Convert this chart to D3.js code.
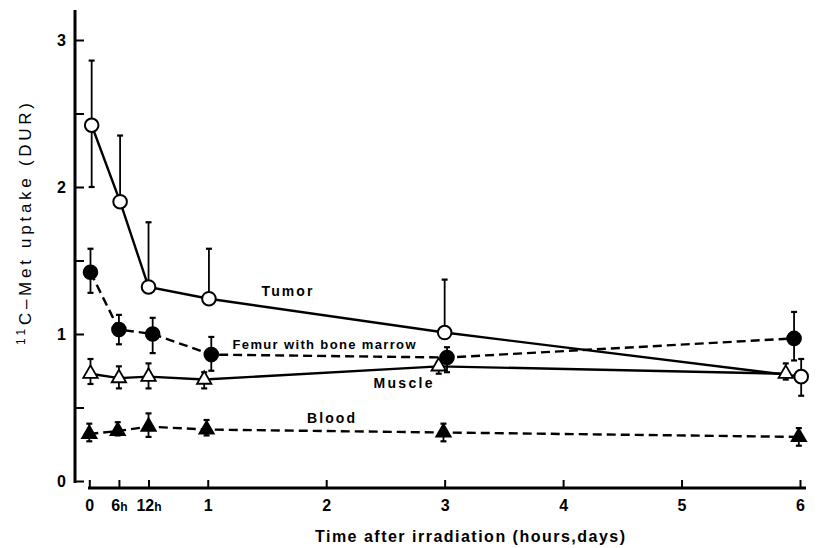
<!DOCTYPE html>
<html>
<head>
<meta charset="utf-8">
<script src="https://cdn.jsdelivr.net/npm/d3@7"></script>
<style>
  html, body { margin: 0; padding: 0; background: #fff; }
  svg { display: block; }
  text { font-family: "Liberation Sans", Arial, sans-serif; font-weight: bold; fill: #000; }
</style>
</head>
<body>
<svg id="chart" width="833" height="548"></svg>
<script>
// ---- Data ----
// x positions in days after irradiation (6h = 0.25, 12h = 0.5)
const tumorX   = [0.02, 0.26, 0.50, 1.01, 3.00, 6.01];
const tumorY   = [2.42, 1.90, 1.32, 1.24, 1.01, 0.71];
const tumorHi  = [2.86, 2.35, 1.76, 1.58, 1.37, 0.83];
const tumorLo  = [2.00, null, null, null, null, 0.58];

const femurX   = [0.01, 0.25, 0.535, 1.03, 3.02, 5.95];
const femurY   = [1.42, 1.03, 1.00, 0.86, 0.84, 0.97];
const femurHi  = [1.58, 1.13, 1.11, 0.98, 0.91, 1.15];
const femurLo  = [1.28, 0.93, 0.87, 0.75, 0.74, 0.82];

const muscleX  = [0.01, 0.25, 0.50, 0.97, 2.95, 5.88];
const muscleY  = [0.73, 0.70, 0.71, 0.69, 0.78, 0.73];
const muscleHi = [0.83, 0.78, 0.80, 0.74, 0.81, 0.80];
const muscleLo = [0.66, 0.63, 0.63, 0.63, 0.73, 0.69];

const bloodX   = [0.00, 0.24, 0.50, 0.99, 2.99, 5.99];
const bloodY   = [0.32, 0.34, 0.37, 0.35, 0.33, 0.30];
const bloodHi  = [0.39, 0.40, 0.46, 0.415, 0.39, 0.36];
const bloodLo  = [0.27, 0.31, 0.30, 0.31, 0.27, 0.24];

const xTickValues = [0, 0.25, 0.5, 1, 2, 3, 4, 5, 6];
const xTickLabels = ["0", "6h", "12h", "1", "2", "3", "4", "5", "6"];
const yTickValues = [0, 0.5, 1, 1.5, 2, 2.5, 3];
const yTickLabels = [0, 1, 2, 3];

const seriesNames = ["Tumor", "Femur with bone marrow", "Muscle", "Blood"];

// ---- Layout ----
const svg = d3.select("#chart");
const x = d3.scaleLinear().domain([0, 6]).range([89.3, 800]);
const y = d3.scaleLinear().domain([0, 3]).range([481, 40]);

const yAxisX = 75, xAxisY = 488;

// Y axis line
svg.append("line").attr("x1", yAxisX).attr("x2", yAxisX)
  .attr("y1", 10).attr("y2", y(0) + 2)
  .attr("stroke", "#000").attr("stroke-width", 3);
// Y ticks (inward)
const yAx = svg.append("g").attr("transform", `translate(${yAxisX},0)`)
  .call(d3.axisRight(y).tickValues(yTickValues).tickSize(9).tickFormat(""));
yAx.select(".domain").remove();
yAx.selectAll(".tick line").attr("stroke", "#000").attr("stroke-width", 2);
// Y labels
const yLab = svg.append("g").attr("transform", `translate(${yAxisX},0)`)
  .call(d3.axisLeft(y).tickValues(yTickLabels).tickSize(0).tickPadding(9).tickFormat(d3.format("d")));
yLab.select(".domain").remove();
yLab.selectAll("text").style("font-size", "16px").style("font-family", "Liberation Sans, Arial, sans-serif").style("font-weight", "bold");

// X axis line
svg.append("line").attr("x1", 88).attr("x2", 806)
  .attr("y1", xAxisY).attr("y2", xAxisY)
  .attr("stroke", "#000").attr("stroke-width", 3);
const xAx = svg.append("g").attr("transform", `translate(0,${xAxisY})`)
  .call(d3.axisTop(x).tickValues(xTickValues).tickSize(8).tickFormat(""));
xAx.select(".domain").remove();
xAx.selectAll(".tick line").attr("stroke", "#000").attr("stroke-width", 2);
// X labels
const xLab = svg.append("g").attr("transform", `translate(0,${xAxisY})`)
  .call(d3.axisBottom(x).tickValues(xTickValues).tickSize(0).tickPadding(12)
    .tickFormat((d, i) => xTickLabels[i]));
xLab.select(".domain").remove();
xLab.selectAll("text")
  .style("font-size", "16px").style("font-family", "Liberation Sans, Arial, sans-serif").style("font-weight", "bold")
  .each(function(d, i) {
    const lab = xTickLabels[i];
    const t = d3.select(this);
    if (lab.endsWith("h")) {
      t.text(null);
      t.append("tspan").text(lab.slice(0, -1));
      t.append("tspan").style("font-size", "12px").text("h");
    }
  });

// Axis titles
svg.append("text")
  .attr("x", 470).attr("y", 542)
  .attr("text-anchor", "middle")
  .attr("textLength", 310).attr("lengthAdjust", "spacing")
  .style("font-size", "16px")
  .text("Time after irradiation (hours,days)");

const yt = svg.append("text")
  .attr("transform", "translate(31,224) rotate(-90)")
  .attr("text-anchor", "middle")
  .attr("textLength", 242).attr("lengthAdjust", "spacing")
  .style("font-size", "17px")
  .style("font-weight", "normal");
yt.append("tspan").style("font-size", "12px").attr("dy", -6).text("11");
yt.append("tspan").attr("dy", 6).text("C–Met  uptake  (DUR)");

// ---- Series ----
function zipSeries(xs, ys, hi, lo) {
  return xs.map((d, i) => ({ x: d, y: ys[i], hi: hi[i], lo: lo[i] }));
}
const series = [
  { name: seriesNames[0], data: zipSeries(tumorX, tumorY, tumorHi, tumorLo), dash: null, marker: "circle", fill: "#fff" },
  { name: seriesNames[1], data: zipSeries(femurX, femurY, femurHi, femurLo), dash: "9,5", marker: "circle", fill: "#000" },
  { name: seriesNames[2], data: zipSeries(muscleX, muscleY, muscleHi, muscleLo), dash: null, marker: "triangle", fill: "#fff" },
  { name: seriesNames[3], data: zipSeries(bloodX, bloodY, bloodHi, bloodLo), dash: "9,5", marker: "triangle", fill: "#000" }
];

const line = d3.line().x(d => x(d.x)).y(d => y(d.y));

// lines
series.forEach(s => {
  svg.append("path").datum(s.data)
    .attr("d", line)
    .attr("fill", "none").attr("stroke", "#000").attr("stroke-width", 2.4)
    .attr("stroke-dasharray", s.dash);
});

// error bars
series.forEach(s => {
  const g = svg.append("g");
  s.data.forEach(d => {
    [d.hi, d.lo].forEach(v => {
      if (v == null) return;
      g.append("line").attr("x1", x(d.x)).attr("x2", x(d.x))
        .attr("y1", y(d.y)).attr("y2", y(v))
        .attr("stroke", "#000").attr("stroke-width", 1.8);
      g.append("line").attr("x1", x(d.x) - 3).attr("x2", x(d.x) + 3)
        .attr("y1", y(v)).attr("y2", y(v))
        .attr("stroke", "#000").attr("stroke-width", 2.2);
    });
  });
});

// markers
const triangle = d3.symbol().type(d3.symbolTriangle).size(90);
series.forEach(s => {
  const g = svg.append("g");
  if (s.marker === "circle") {
    g.selectAll("circle").data(s.data).join("circle")
      .attr("cx", d => x(d.x)).attr("cy", d => y(d.y)).attr("r", 6.8)
      .attr("fill", s.fill).attr("stroke", "#000").attr("stroke-width", 2);
  } else {
    g.selectAll("path").data(s.data).join("path")
      .attr("d", triangle)
      .attr("transform", d => `translate(${x(d.x)},${y(d.y)})`)
      .attr("fill", s.fill).attr("stroke", "#000").attr("stroke-width", 1.8);
  }
});

// Series labels
const labels = [
  { text: seriesNames[0], x: 287, y: 296, len: 51, size: 14 },
  { text: seriesNames[1], x: 324, y: 349, len: 183, size: 13 },
  { text: seriesNames[2], x: 403, y: 388, len: 59, size: 14 },
  { text: seriesNames[3], x: 331, y: 423, len: 48, size: 14 }
];
svg.append("g").selectAll("text").data(labels).join("text")
  .attr("x", d => d.x).attr("y", d => d.y)
  .attr("text-anchor", "middle")
  .attr("textLength", d => d.len).attr("lengthAdjust", "spacing")
  .style("font-size", d => d.size + "px")
  .text(d => d.text);
</script>
</body>
</html>
